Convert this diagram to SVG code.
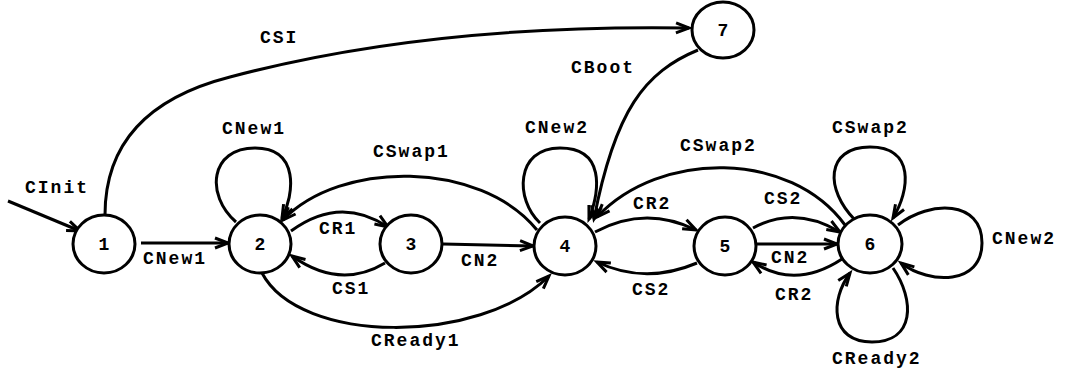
<svg xmlns="http://www.w3.org/2000/svg" width="1065" height="378" viewBox="0 0 1065 378">
<style>
.n{fill:#fff;stroke:#000;stroke-width:3}
.e{fill:none;stroke:#000;stroke-width:3;marker-end:url(#a)}
text{font-family:"Liberation Mono","Courier New",monospace;font-weight:bold;font-size:18px;letter-spacing:2px;fill:#000}
.c{text-anchor:middle;letter-spacing:0}
</style>
<defs>
<marker id="a" markerUnits="userSpaceOnUse" markerWidth="20" markerHeight="14" refX="0" refY="0" viewBox="-14 -7 16 14" orient="auto" overflow="visible">
<path d="M-13,-5 L0,0 L-13,5" fill="none" stroke="#000" stroke-width="3"/>
</marker>
</defs>
<g id="connectors">
<path class="e" d="M8,201 L80,231"/>
<path class="e" d="M105,215 C105,150 140,100 230,77 C350,45 500,25 689,28"/>
<path class="e" d="M141,243 L228,243"/>
<path class="e" d="M236,222 C205,195 210,148 255,148 C300,148 294,195 282,218"/>
<path class="e" d="M537,230 C480,160 340,160 283,220"/>
<path class="e" d="M291,231 Q340,195 388,227"/>
<path class="e" d="M385,263 Q340,290 292,256"/>
<path class="e" d="M443,244 L533,246"/>
<path class="e" d="M262,273 C300,345 480,345 549,276"/>
<path class="e" d="M540,223 C515,200 515,148 560,148 C605,148 600,190 589,219"/>
<path class="e" d="M698,50 C645,72 615,110 594,219"/>
<path class="e" d="M845,225 C790,150 660,150 597,217"/>
<path class="e" d="M595,232 Q645,205 696,230"/>
<path class="e" d="M697,263 Q645,285 597,262"/>
<path class="e" d="M753,228 Q795,205 840,232"/>
<path class="e" d="M757,244 L837,244"/>
<path class="e" d="M842,259 Q795,290 753,262"/>
<path class="e" d="M855,220 C825,190 825,147 870,147 C915,147 910,190 893,218"/>
<path class="e" d="M898,225 C930,200 982,200 982,243 C982,285 930,285 901,263"/>
<path class="e" d="M893,268 C915,300 915,342 872,342 C830,342 830,300 850,273"/>
</g>
<g id="labels">
<text x="25" y="193">CInit</text>
<text x="260" y="43">CSI</text>
<text x="143" y="264">CNew1</text>
<text x="222" y="134">CNew1</text>
<text x="373" y="157">CSwap1</text>
<text x="319" y="234">CR1</text>
<text x="332" y="294">CS1</text>
<text x="371" y="346">CReady1</text>
<text x="461" y="266">CN2</text>
<text x="571" y="73">CBoot</text>
<text x="525" y="133">CNew2</text>
<text x="680" y="151">CSwap2</text>
<text x="633" y="209">CR2</text>
<text x="632" y="295">CS2</text>
<text x="764" y="204">CS2</text>
<text x="771" y="263">CN2</text>
<text x="775" y="300">CR2</text>
<text x="832" y="133">CSwap2</text>
<text x="992" y="244">CNew2</text>
<text x="832" y="364">CReady2</text>
</g>
<g id="node1"><ellipse class="n" cx="104" cy="244" rx="31" ry="29"/><text class="c" x="104" y="250">1</text></g>
<g id="node2"><ellipse class="n" cx="260" cy="244" rx="31" ry="29"/><text class="c" x="260" y="250">2</text></g>
<g id="node3"><ellipse class="n" cx="411" cy="244" rx="31" ry="29"/><text class="c" x="411" y="250">3</text></g>
<g id="node4"><ellipse class="n" cx="565" cy="246" rx="31" ry="29"/><text class="c" x="565" y="252">4</text></g>
<g id="node5"><ellipse class="n" cx="725" cy="246" rx="31" ry="29"/><text class="c" x="725" y="252">5</text></g>
<g id="node6"><ellipse class="n" cx="870" cy="244" rx="32" ry="29"/><text class="c" x="870" y="250">6</text></g>
<g id="node7"><ellipse class="n" cx="723" cy="30" rx="31" ry="28"/><text class="c" x="723" y="36">7</text></g>
</svg>
